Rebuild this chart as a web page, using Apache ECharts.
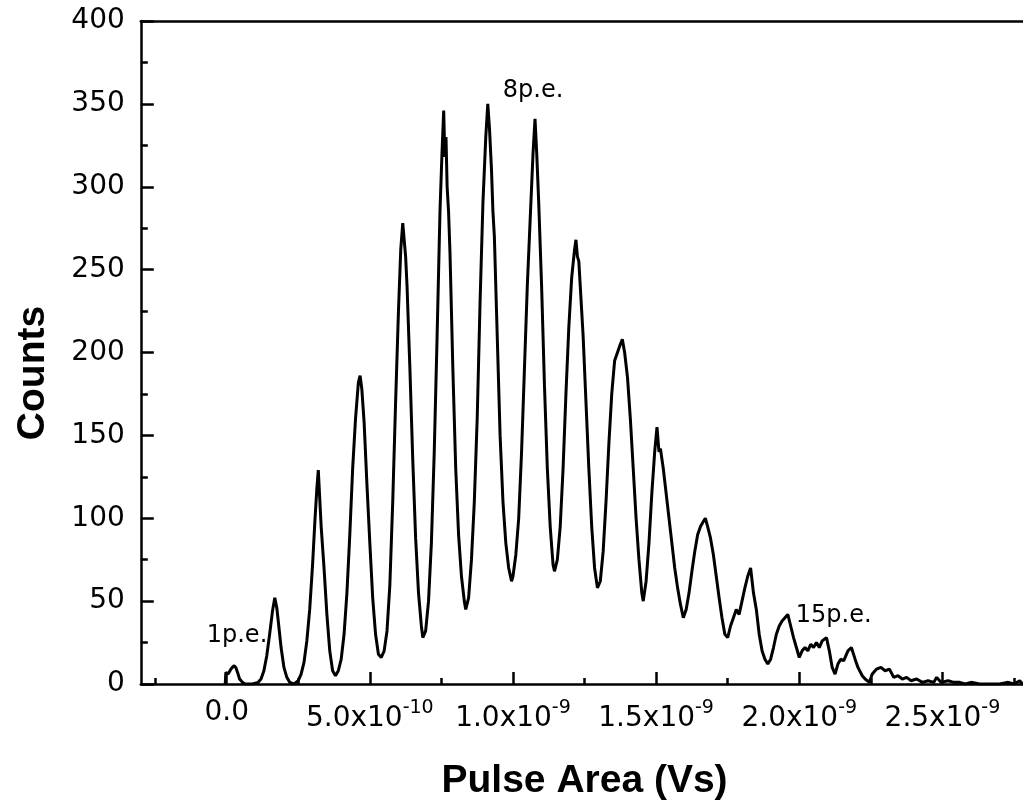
<!DOCTYPE html>
<html><head><meta charset="utf-8">
<script src="https://cdn.jsdelivr.net/npm/echarts@6/dist/echarts.min.js"></script>
<style>html,body{margin:0;padding:0;background:#fff;overflow:hidden}#c{width:1030px;height:803px}</style>
</head><body><div id="c"></div>
<script>
// Pulse area in units of 1e-10 Vs, counts
const histogram = [
[-0.05,0],[-0.03,7],[0.05,6],[0.15,9],[0.25,11],[0.32,10],[0.38,7],[0.45,3],[0.55,1],[0.65,0],[0.9,0],[1.1,1],[1.2,3],[1.3,8],[1.4,17],[1.5,30],[1.6,44],[1.68,52],[1.75,46],[1.82,35],[1.9,22],[2.0,10],[2.1,4],[2.2,1],[2.35,0],[2.5,2],[2.6,6],[2.7,13],[2.8,26],[2.9,45],[3.0,72],[3.08,98],[3.15,118],[3.2,129],[3.25,112],[3.3,95],[3.4,70],[3.5,42],[3.6,20],[3.7,8],[3.8,5],[3.9,8],[4.0,15],[4.1,30],[4.2,55],[4.3,90],[4.4,130],[4.5,160],[4.6,182],[4.66,186],[4.72,178],[4.8,158],[4.9,120],[5.0,85],[5.1,52],[5.2,30],[5.3,18],[5.4,16],[5.5,20],[5.6,32],[5.7,60],[5.8,110],[5.9,170],[6.0,225],[6.08,262],[6.15,278],[6.2,268],[6.25,258],[6.3,240],[6.4,190],[6.5,135],[6.6,88],[6.7,55],[6.8,35],[6.85,28],[6.95,32],[7.05,50],[7.15,85],[7.25,140],[7.35,210],[7.45,285],[7.52,320],[7.58,346],[7.62,318],[7.66,330],[7.7,300],[7.75,285],[7.8,260],[7.9,190],[8.0,130],[8.1,90],[8.2,65],[8.3,50],[8.35,45],[8.45,52],[8.55,75],[8.65,110],[8.75,160],[8.85,230],[8.95,290],[9.05,330],[9.12,350],[9.18,335],[9.25,310],[9.3,285],[9.35,270],[9.45,210],[9.55,150],[9.65,110],[9.75,85],[9.85,70],[9.95,62],[10.0,65],[10.1,78],[10.2,100],[10.3,140],[10.4,190],[10.5,240],[10.6,280],[10.7,320],[10.77,341],[10.83,320],[10.9,290],[11.0,240],[11.1,180],[11.2,130],[11.3,95],[11.4,72],[11.45,68],[11.55,75],[11.65,95],[11.75,130],[11.85,175],[11.95,215],[12.05,245],[12.15,262],[12.2,268],[12.25,258],[12.3,255],[12.35,240],[12.45,210],[12.55,170],[12.65,130],[12.75,95],[12.85,70],[12.95,58],[13.05,62],[13.15,80],[13.25,110],[13.35,145],[13.45,175],[13.55,195],[13.65,200],[13.75,205],[13.82,208],[13.9,200],[14.0,185],[14.1,160],[14.2,130],[14.3,100],[14.4,75],[14.5,55],[14.55,50],[14.65,62],[14.75,85],[14.85,115],[14.95,140],[15.03,155],[15.1,140],[15.15,142],[15.25,130],[15.35,115],[15.45,100],[15.55,85],[15.65,70],[15.75,58],[15.85,48],[15.95,40],[16.05,45],[16.15,55],[16.25,68],[16.35,80],[16.45,90],[16.55,95],[16.65,98],[16.72,100],[16.8,95],[16.9,88],[17.0,78],[17.1,65],[17.2,52],[17.3,40],[17.4,30],[17.5,28],[17.6,35],[17.7,40],[17.8,45],[17.9,42],[18.0,50],[18.1,58],[18.2,65],[18.3,70],[18.4,55],[18.5,45],[18.6,30],[18.7,20],[18.8,15],[18.9,12],[19.0,15],[19.1,22],[19.2,30],[19.3,35],[19.4,38],[19.5,40],[19.6,42],[19.7,35],[19.8,28],[19.9,22],[20.0,16],[20.1,20],[20.2,22],[20.3,20],[20.4,24],[20.5,22],[20.6,25],[20.7,22],[20.8,26],[20.95,28],[21.05,20],[21.15,10],[21.25,6],[21.35,12],[21.45,15],[21.55,14],[21.7,20],[21.82,22],[21.95,15],[22.05,10],[22.2,5],[22.3,3],[22.45,1],[22.55,6],[22.7,9],[22.85,10],[23.0,8],[23.15,9],[23.3,4],[23.45,5],[23.6,3],[23.75,4],[23.9,2],[24.1,3],[24.3,1],[24.5,2],[24.7,1],[24.8,4],[24.95,1],[25.2,2],[25.4,1],[25.6,1],[25.8,0],[26.0,1],[26.3,0],[27.0,0],[27.3,1],[27.5,0],[27.7,2],[27.8,0],[28,0]
];
const tickValues = [0, 5, 10, 15, 20, 25];
const tickMantissa = ['0.0', '5.0', '1.0', '1.5', '2.0', '2.5'];
const tickExponent = ['', '-10', '-9', '-9', '-9', '-9'];
const minorTickValues = [-2.5, 2.5, 7.5, 12.5, 17.5, 22.5, 27.5];
const annotX = [0.36, 10.70, 21.20];
const annotY = [29, 358, 41];
const annotText = ['1p.e.', '8p.e.', '15p.e.'];

const chart = echarts.init(document.getElementById('c'), null, {renderer: 'canvas'});
const BLACK = '#000';
const tickFont = 'DejaVu Sans';
const axisLineStyle = {color: BLACK, width: 2.5};

chart.setOption({
  animation: false,
  backgroundColor: '#fff',
  grid: {left: 140.8, top: 21, width: 887.5, height: 663, containLabel: false, outerBoundsMode: 'none'},
  xAxis: [
    {
      type: 'value', min: -3, max: 28, position: 'bottom',
      axisLine: {show: true, onZero: false, lineStyle: axisLineStyle},
      axisTick: {show: true, inside: true, length: 12, customValues: tickValues, lineStyle: axisLineStyle},
      axisLabel: {
        customValues: tickValues, margin: 15, color: BLACK,
        formatter: function (v) {
          const i = tickValues.indexOf(Math.round(v * 100) / 100);
          if (i < 0) return '';
          return tickExponent[i] ? '{m|' + tickMantissa[i] + 'x10}{s|' + tickExponent[i] + '}' : '{z|' + tickMantissa[i] + '}';
        },
        rich: {
          m: {fontFamily: tickFont, fontSize: 28, lineHeight: 28, verticalAlign: 'bottom', color: BLACK},
          s: {fontFamily: tickFont, fontSize: 19, padding: [0, 0, 15, 0], verticalAlign: 'top', color: BLACK},
          z: {fontFamily: tickFont, fontSize: 28, lineHeight: 28, color: BLACK}
        }
      },
      splitLine: {show: false},
      name: 'Pulse Area (Vs)', nameLocation: 'middle', nameGap: 78, nameMoveOverlap: false,
      nameTextStyle: {fontFamily: 'Liberation Sans', fontWeight: 'bold', fontSize: 39, color: BLACK}
    },
    {
      type: 'value', min: -3, max: 28, position: 'bottom',
      axisLine: {show: false},
      axisTick: {show: true, inside: true, length: 6, customValues: minorTickValues, lineStyle: axisLineStyle},
      axisLabel: {show: false}, splitLine: {show: false}
    },
    {
      type: 'value', min: -3, max: 28, position: 'top',
      axisLine: {show: true, onZero: false, lineStyle: axisLineStyle},
      axisTick: {show: false}, axisLabel: {show: false}, splitLine: {show: false}
    }
  ],
  yAxis: {
    type: 'value', min: 0, max: 400, interval: 50,
    axisLine: {show: true, onZero: false, lineStyle: axisLineStyle},
    axisTick: {show: true, inside: true, length: 13, lineStyle: axisLineStyle},
    minorTick: {show: true, splitNumber: 2, length: 7, lineStyle: axisLineStyle},
    axisLabel: {margin: 16, fontFamily: tickFont, fontSize: 28, color: BLACK},
    splitLine: {show: false}, minorSplitLine: {show: false}
  },
  graphic: [{
    type: 'text', x: 33, y: 373, rotation: Math.PI / 2,
    style: {text: 'Counts', fontFamily: 'Liberation Sans', fontWeight: 'bold', fontSize: 39, fill: BLACK, align: 'center', verticalAlign: 'middle'}
  }],
  series: [
    {
      type: 'line', xAxisIndex: 0, data: histogram, showSymbol: false, symbol: 'none',
      lineStyle: {color: BLACK, width: 3}, silent: true, clip: true
    },
    {
      type: 'scatter', xAxisIndex: 0, symbolSize: 0, silent: true,
      itemStyle: {opacity: 1, color: BLACK},
      data: annotX.map((x, i) => [x, annotY[i], annotText[i]]),
      label: {show: true, position: 'inside', formatter: p => p.data[2], fontFamily: tickFont, fontSize: 24, color: BLACK, opacity: 1}
    }
  ]
});
</script></body></html>
